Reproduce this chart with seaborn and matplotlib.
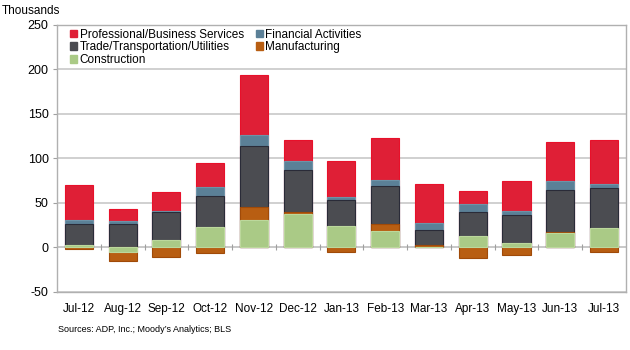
import matplotlib
matplotlib.use("Agg")
import matplotlib.pyplot as plt
from matplotlib.patches import Patch
import seaborn as sns
import pandas as pd
import numpy as np

months = ["Jul-12", "Aug-12", "Sep-12", "Oct-12", "Nov-12", "Dec-12", "Jan-13",
          "Feb-13", "Mar-13", "Apr-13", "May-13", "Jun-13", "Jul-13"]
construction = [2, -6, 8, 23, 30, 37, 24, 18, 0.5, 13, 4.5, 16, 22]
manufacturing = [-2, -10, -11, -7, 15, 3, -6, 8, 1.5, -12, -9, 0.5, -6]
trade = [24, 26, 31, 35, 69, 47, 29, 43, 17, 27, 32, 48, 45]
financial = [5, 3, 2, 10, 12, 10, 3, 6, 8, 8, 4, 10, 4.5]
professional = [39, 14, 21, 27, 68, 23, 41, 48, 44, 15, 34, 44, 48.5]

series = [
    ("Construction", construction, "#AACA86", "#BCD89C"),
    ("Manufacturing", manufacturing, "#B85E12", "#A04A08"),
    ("Trade/Transportation/Utilities", trade, "#4B4C51", "#2A2B38"),
    ("Financial Activities", financial, "#5B8097", "#6E93A8"),
    ("Professional/Business Services", professional, "#DF1F36", "#E8102A"),
]

# cumulative stack ends (positive upward, negative downward)
n = len(months)
pos = np.zeros(n)
neg = np.zeros(n)
ends = []
for name, vals, fc, ec in series:
    v = np.array(vals, dtype=float)
    end = np.where(v >= 0, pos + v, neg + v)
    pos = np.where(v >= 0, pos + v, pos)
    neg = np.where(v < 0, neg + v, neg)
    ends.append(end)

plt.rcParams["font.family"] = ["Liberation Sans", "DejaVu Sans"]
plt.rcParams["axes.unicode_minus"] = False
fig = plt.figure(figsize=(6.3, 3.5), dpi=100)
ax = fig.add_axes([0.0905, 0.167, 0.903, 0.762])

for (name, vals, fc, ec), end in reversed(list(zip(series, ends))):
    df = pd.DataFrame({"month": months, "value": end})
    sns.barplot(data=df, x="month", y="value", order=months, color=fc,
                edgecolor=ec, linewidth=0.8, width=0.64, errorbar=None,
                saturation=1, ax=ax, zorder=3)

ax.set_ylim(-50, 250)
ax.set_xlim(-0.5, n - 0.5)
ax.set_yticks(range(-50, 251, 50))
ax.yaxis.grid(True, color="#C8C8C8", linewidth=1.2, zorder=0)
ax.set_axisbelow(True)
ax.axhline(0, color="#C8C8C8", linewidth=1.2, zorder=1)
ax.vlines(np.arange(n - 1) + 0.5, -3, 3, color="#A0A0A0", linewidth=0.8, zorder=1)
ax.set_xlabel("")
ax.set_ylabel("")
for s in ax.spines.values():
    s.set_color("#B0B0B0")
    s.set_linewidth(1.0)
ax.tick_params(axis="x", length=0, labelsize=8.5, pad=8, colors="black")
ax.tick_params(axis="y", length=3, color="#A0A0A0", labelsize=9, pad=3)

handles = [Patch(facecolor=fc, edgecolor=fc) for name, _, fc, _ in series]
labels = [name for name, *_ in series]
order = [4, 2, 0, 3, 1]
leg = ax.legend([handles[i] for i in order], [labels[i] for i in order],
                ncol=2, loc="upper left", bbox_to_anchor=(0.011, 1.012),
                frameon=False, fontsize=8.5, handlelength=0.6, handleheight=0.6,
                handletextpad=0.2, columnspacing=1.0, labelspacing=0.05,
                borderaxespad=0.2)

fig.text(0.003, 0.985, "Thousands", fontsize=8.5, ha="left", va="top")
fig.text(0.092, 0.06, "Sources: ADP, Inc.; Moody\u2019s Analytics; BLS",
         fontsize=6.5, ha="left", va="center")

fig.savefig("out.png", dpi=100)
